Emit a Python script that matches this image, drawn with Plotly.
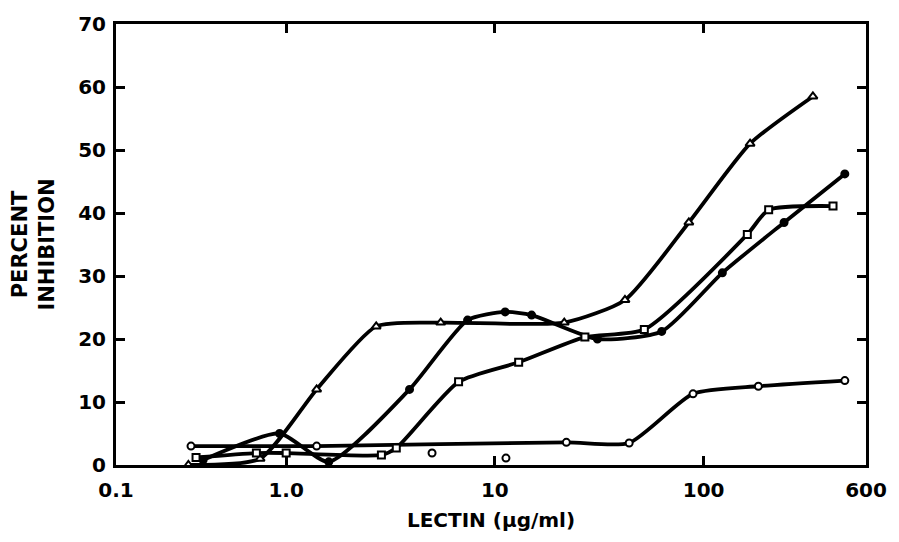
import plotly.graph_objects as go
import math

# Triangle series
tri_x = [0.34, 0.75, 1.4, 2.7, 5.5, 21.5, 42, 85, 167, 334]
tri_y = [0.0, 1.0, 12.0, 22.0, 22.6, 22.6, 26.2, 38.5, 51.0, 58.5]

# Open-circle series (flat then rising)
oc_x = [0.35, 1.4, 22, 44, 89, 183, 475]
oc_y = [3.0, 3.0, 3.6, 3.5, 11.3, 12.5, 13.4]

# Filled-circle series (hump)
fc_x = [0.4, 0.93, 1.6, 3.9, 7.4, 11.2, 15, 31, 63, 123, 243, 475]
fc_y = [0.8, 5.0, 0.5, 12.0, 23.0, 24.3, 23.8, 20.0, 21.2, 30.5, 38.5, 46.2]

# Square series
sq_x = [0.37, 0.72, 1.0, 2.86, 3.37, 6.7, 13, 27, 52, 162, 205, 417]
sq_y = [1.2, 1.9, 1.9, 1.6, 2.7, 13.2, 16.3, 20.3, 21.5, 36.6, 40.5, 41.1]

# Isolated points
iso_x = [5.0, 11.3]
iso_y = [1.9, 1.1]

x_tickvals = [0.153, 1, 10, 100, 600]
x_ticktext = ["0.1", "1.0", "10", "100", "600"]
y_tickvals = [0, 10, 20, 30, 40, 50, 60, 70]

FONT = "DejaVu Sans"
LW = 3.8

fig = go.Figure()

def add_series(x, y, symbol, filled=False, size=7):
    fig.add_trace(go.Scatter(
        x=x, y=y, mode="lines+markers",
        line=dict(color="black", width=LW, shape="spline", smoothing=0.6),
        marker=dict(symbol=symbol, size=size,
                    color="black" if filled else "white",
                    line=dict(color="black", width=2)),
        showlegend=False, cliponaxis=False))

add_series(tri_x, tri_y, "triangle-up", size=8)
add_series(oc_x, oc_y, "circle", size=7)
add_series(fc_x, fc_y, "circle", filled=True, size=7)
add_series(sq_x, sq_y, "square", size=7)

fig.add_trace(go.Scatter(
    x=iso_x, y=iso_y, mode="markers",
    marker=dict(symbol="circle", size=7, color="white",
                line=dict(color="black", width=2)),
    showlegend=False))

fig.update_layout(
    width=899, height=542,
    margin=dict(l=116, r=32, t=20, b=77),
    paper_bgcolor="white", plot_bgcolor="white",
    font=dict(family=FONT, color="black", size=21),
    xaxis=dict(
        type="log", range=[math.log10(0.153), math.log10(600)],
        tickvals=x_tickvals, ticktext=x_ticktext,
        showgrid=False, zeroline=False,
        showline=True, linecolor="black", linewidth=3, mirror="ticks",
        ticks="inside", ticklen=9, tickwidth=2.5, tickcolor="black",
        ticklabelstandoff=5,
        tickfont=dict(size=20, family=FONT, color="black", weight="bold"),
        title=dict(text="LECTIN (\u03bcg/ml)",
                   font=dict(size=20, family=FONT, color="black", weight="bold"),
                   standoff=12),
    ),
    yaxis=dict(
        range=[0, 70], tickvals=y_tickvals,
        showgrid=False, zeroline=False,
        showline=True, linecolor="black", linewidth=3, mirror="ticks",
        ticks="inside", ticklen=9, tickwidth=2.5, tickcolor="black",
        ticklabelstandoff=3,
        tickfont=dict(size=20, family=FONT, color="black", weight="bold"),
        title=dict(text="PERCENT<br>INHIBITION",
                   font=dict(size=21, family=FONT, color="black", weight="bold"),
                   standoff=18),
    ),
)

fig.write_html("out.html")
